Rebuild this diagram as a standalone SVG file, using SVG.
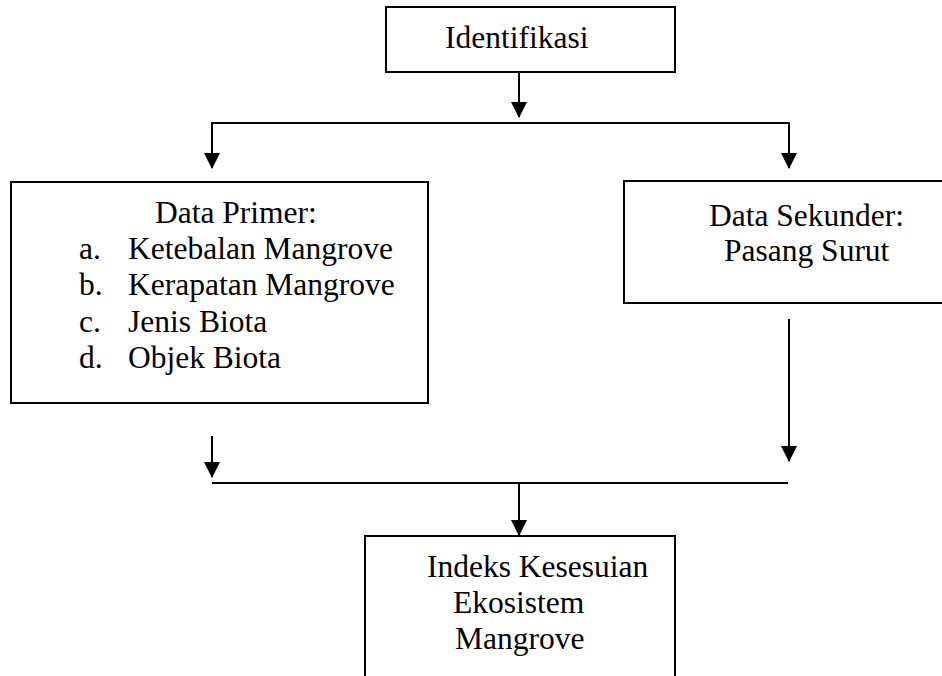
<svg xmlns="http://www.w3.org/2000/svg" width="942" height="676" viewBox="0 0 942 676">
<style>
  .box { fill: none; stroke: #000; stroke-width: 2; }
  .ln { fill: none; stroke: #000; stroke-width: 2; }
  .arr { marker-end: url(#ah); }
  text { font-family: "Liberation Serif", "Times New Roman", serif; font-size: 31.5px; fill: #000; }
</style>
<defs>
  <marker id="ah" markerUnits="userSpaceOnUse" markerWidth="16" markerHeight="16" viewBox="0 0 16 16" refX="15" refY="8" orient="auto">
    <path d="M0,0 L16,8 L0,16 z" fill="#000"/>
  </marker>
</defs>
<rect x="0" y="0" width="942" height="676" fill="#fff"/>

<g id="node-identifikasi">
  <rect class="box" x="386" y="7" width="289" height="65"/>
  <text x="445" y="48">Identifikasi</text>
</g>

<g id="node-data-primer">
  <rect class="box" x="11" y="182" width="417" height="221"/>
  <text x="155" y="223">Data Primer:</text>
  <text x="79" y="259">a.</text><text x="128" y="259">Ketebalan Mangrove</text>
  <text x="79" y="295">b.</text><text x="128" y="295">Kerapatan Mangrove</text>
  <text x="79" y="332">c.</text><text x="128" y="332">Jenis Biota</text>
  <text x="79" y="368">d.</text><text x="128" y="368">Objek Biota</text>
</g>

<g id="node-data-sekunder">
  <path class="box" d="M942,181 H624 V303 H942"/>
  <text x="709" y="226">Data Sekunder:</text>
  <text x="724" y="261">Pasang Surut</text>
</g>

<g id="node-indeks">
  <path class="box" d="M365,676 V536 H675 V676"/>
  <text x="427" y="577">Indeks Kesesuian</text>
  <text x="453" y="613">Ekosistem</text>
  <text x="455" y="649">Mangrove</text>
</g>

<g id="connectors">
  <line class="ln arr" x1="519" y1="73" x2="519" y2="117"/>
  <line class="ln" x1="211" y1="123" x2="790" y2="123"/>
  <line class="ln arr" x1="212" y1="122" x2="212" y2="168"/>
  <line class="ln arr" x1="789" y1="122" x2="789" y2="168"/>
  <line class="ln arr" x1="212" y1="436" x2="212" y2="477"/>
  <line class="ln arr" x1="789" y1="319" x2="789" y2="461"/>
  <line class="ln" x1="212" y1="483" x2="788" y2="483"/>
  <line class="ln arr" x1="519" y1="483" x2="519" y2="535"/>
</g>
</svg>
